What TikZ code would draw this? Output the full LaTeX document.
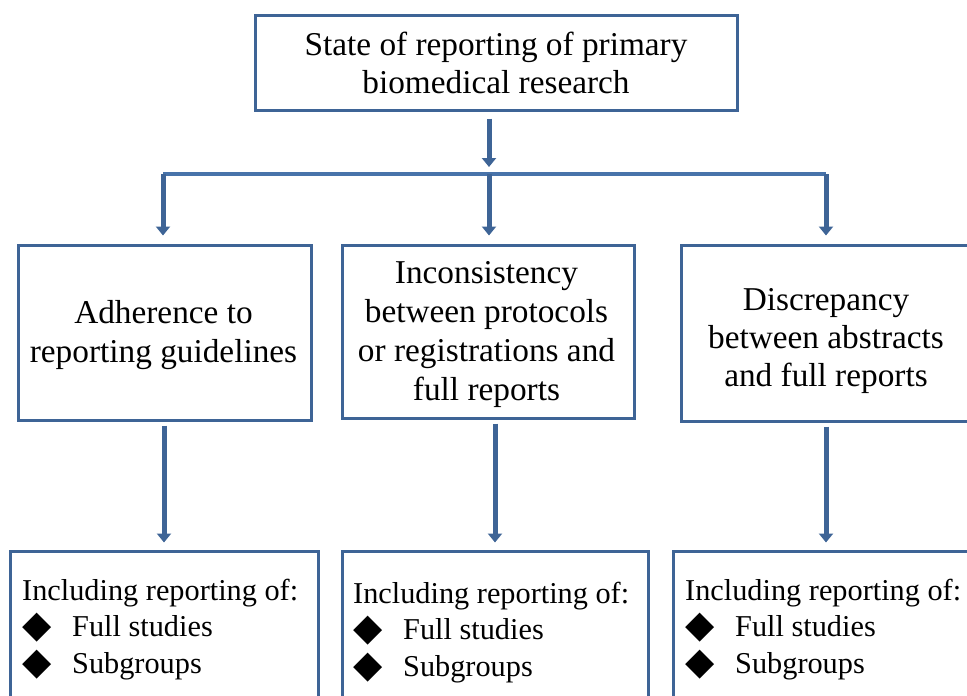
\documentclass[tikz,border=0pt]{standalone}
\usepackage{fontspec}
\setmainfont{Liberation Serif}
\newfontfamily\symfont{DejaVu Sans}
\usetikzlibrary{arrows.meta}
\definecolor{boxblue}{RGB}{62,100,150}
\definecolor{barblue}{RGB}{72,115,170}
\tikzset{
  box/.style={draw=boxblue, line width=3pt, inner sep=0pt, fill=white},
  big/.style={font=\fontsize{33.3}{39}\selectfont, align=center, anchor=base, inner sep=0pt},
  small/.style={font=\fontsize{30.3}{36.5}\selectfont, align=left, anchor=base west, inner sep=0pt},
  arr/.style={draw=boxblue, line width=5pt, -{Triangle[width=14pt,length=9pt]}},
  bar/.style={draw=barblue, line width=4pt}
}
\newcommand{\dia}{\makebox[50pt][l]{\raisebox{-1pt}{\symfont\fontsize{38}{38}\selectfont ◆}}}
\begin{document}
\begin{tikzpicture}[x=1pt,y=-1pt]
\useasboundingbox (0,0) rectangle (967,696);
% boxes
\node[box, minimum width=482pt, minimum height=95pt] (top) at (496,62.5) {};
\node[box, minimum width=293pt, minimum height=175pt] (m1) at (164.5,332.5) {};
\node[box, minimum width=292pt, minimum height=173pt] (m2) at (488,331.5) {};
\node[box, minimum width=290pt, minimum height=176pt] (m3) at (826,333) {};
\node[box, minimum width=308pt, minimum height=170pt] (b1) at (164,636) {};
\node[box, minimum width=306pt, minimum height=170pt] (b2) at (495,636) {};
\node[box, minimum width=306pt, minimum height=170pt] (b3) at (826,636) {};
% texts (anchor base = baseline of last line)
\node[big, font=\fontsize{33.3}{38}\selectfont] (topt) at (496,93) {State of reporting of primary\\biomedical research};
\node[big] (m1t) at (163.5,362) {Adherence to\\reporting guidelines};
\node[big] (m2t) at (486.5,400) {Inconsistency\\between protocols\\or registrations and\\full reports};
\node[big, font=\fontsize{33.3}{38}\selectfont] (m3t) at (826,386) {Discrepancy\\between abstracts\\and full reports};
\node[small] (b1t) at (22,673) {Including reporting of:\\\dia Full studies\\\dia Subgroups};
\node[small] (b2t) at (353,676) {Including reporting of:\\\dia Full studies\\\dia Subgroups};
\node[small] (b3t) at (685,673) {Including reporting of:\\\dia Full studies\\\dia Subgroups};
% connectors
\coordinate (hub) at (489,174);
\coordinate (hl) at (163,174);
\coordinate (hr) at (826,174);
\draw[bar] (hl) -- (hr);
\draw[arr, shorten <=7pt, shorten >=7pt] (top.south -| hub) -- (hub);
\draw[arr, shorten >=8pt] (hl) -- (m1.north -| hl);
\draw[arr, shorten >=8pt] (hub) -- (m2.north -| hub);
\draw[arr, shorten >=8pt] (hr) -- (m3.north -| hr);
\draw[arr, shorten <=4pt, shorten >=7pt] (m1.south -| b1.north) -- (b1.north);
\draw[arr, shorten <=4pt, shorten >=7pt] (m2.south -| b2.north) -- (b2.north);
\draw[arr, shorten <=4pt, shorten >=7pt] (m3.south) -- (m3.south |- b3.north);
\end{tikzpicture}
\end{document}
